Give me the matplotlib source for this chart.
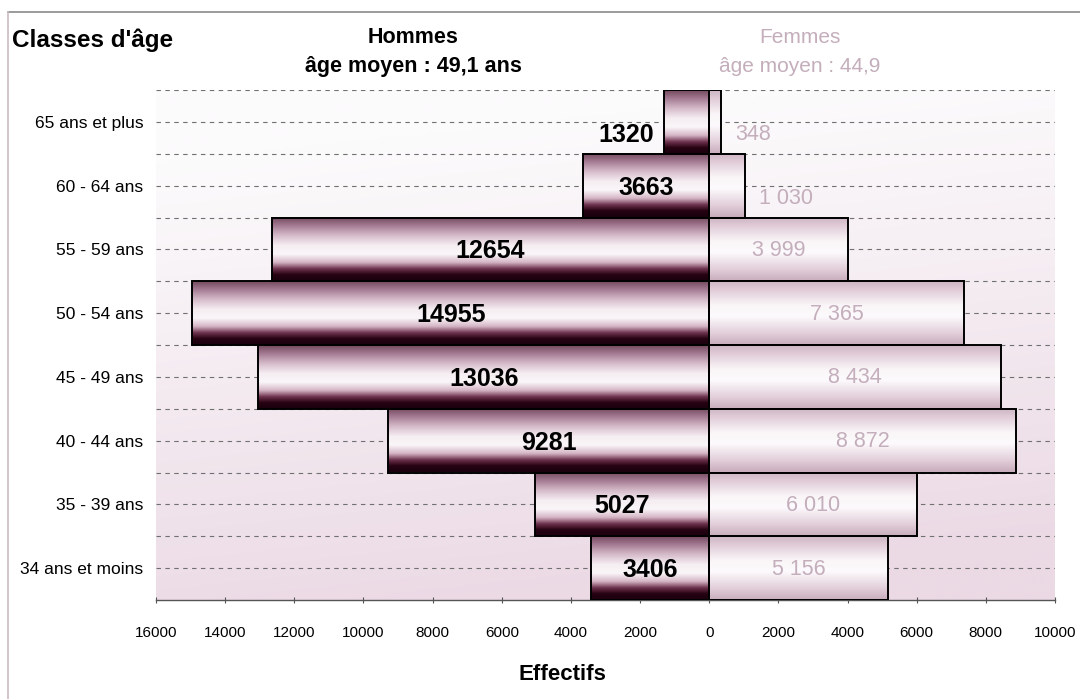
import numpy as np
import matplotlib
matplotlib.use("Agg")
import matplotlib.pyplot as plt
from matplotlib.colors import LinearSegmentedColormap
from matplotlib.ticker import FuncFormatter, MultipleLocator
from matplotlib.lines import Line2D

plt.rcParams['font.family'] = ['Liberation Sans', 'DejaVu Sans']

# data (bottom to top)
classes = ["34 ans et moins", "35 - 39 ans", "40 - 44 ans", "45 - 49 ans",
           "50 - 54 ans", "55 - 59 ans", "60 - 64 ans", "65 ans et plus"]
hommes = [3406, 5027, 9281, 13036, 14955, 12654, 3663, 1320]
femmes = [5156, 6010, 8872, 8434, 7365, 3999, 1030, 348]
titre_h = ["Hommes", "âge moyen : 49,1 ans"]
titre_f = ["Femmes", "âge moyen : 44,9"]


def rgb(r, g, b):
    return (r / 255, g / 255, b / 255)


# vertical shading of the bars, from bottom edge to top edge
cmap_h = LinearSegmentedColormap.from_list("h", [
    (0.00, rgb(25, 0, 12)),
    (0.10, rgb(40, 3, 18)),
    (0.19, rgb(110, 50, 78)),
    (0.29, rgb(212, 180, 196)),
    (0.42, rgb(250, 246, 248)),
    (0.56, rgb(245, 237, 241)),
    (0.72, rgb(212, 185, 200)),
    (0.88, rgb(160, 118, 142)),
    (1.00, rgb(115, 72, 95)),
])
cmap_f = LinearSegmentedColormap.from_list("f", [
    (0.00, rgb(200, 172, 188)),
    (0.18, rgb(226, 206, 217)),
    (0.45, rgb(252, 250, 252)),
    (0.62, rgb(250, 246, 248)),
    (0.85, rgb(226, 206, 217)),
    (1.00, rgb(205, 180, 195)),
])
grad = np.linspace(0, 1, 256).reshape(-1, 1)

fig = plt.figure(figsize=(10.8, 6.99), dpi=100)
ax = fig.add_axes([156 / 1080, 1 - 600 / 699, (1055 - 156) / 1080, (600 - 90) / 699])

# plot area background: white at top, pinkish toward bottom / right
yy, xx = np.mgrid[0:1:200j, 0:1:200j]
s = np.clip(1.05 * (1 - yy) + 0.2 * xx - 0.15, 0, 1)[..., None]
white = np.array(rgb(252, 251, 252))
pink = np.array(rgb(235, 217, 228))
bg = white * (1 - s) + pink * s
ax.imshow(bg, extent=[0, 1, 0, 1], transform=ax.transAxes, origin='lower',
          aspect='auto', zorder=0)

y = np.arange(len(classes))

# dashed grid at class centres and class boundaries
for g in np.arange(0, len(classes), 0.5):
    ax.axhline(g, color='#707070', lw=0.8, ls=(0, (4, 4)), zorder=1)

bars_h = ax.barh(y, [-v for v in hommes], height=1.0, color='none',
                 edgecolor='black', lw=1.4, zorder=3)
bars_f = ax.barh(y, femmes, height=1.0, color='none',
                 edgecolor='black', lw=1.4, zorder=3)

for bars, cmap in ((bars_h, cmap_h), (bars_f, cmap_f)):
    for b in bars:
        x0, y0 = b.get_x(), b.get_y()
        ax.imshow(grad, cmap=cmap, vmin=0, vmax=1, origin='lower', aspect='auto',
                  extent=[x0, x0 + b.get_width(), y0, y0 + b.get_height()],
                  interpolation='bilinear', zorder=2.5)

# value labels
col_f = '#c4aebb'
for yi, v in zip(y, hommes):
    if v < 2000:
        ax.annotate(str(v), xy=(-v, yi), xytext=(-10, -13), textcoords='offset pixels',
                    ha='right', va='center', fontsize=18, weight='bold', zorder=5)
    else:
        ax.annotate(str(v), xy=(-v / 2, yi), xytext=(0, -2), textcoords='offset pixels',
                    ha='center', va='center', fontsize=18, weight='bold', zorder=5)
for yi, v in zip(y, femmes):
    txt = f"{v:,}".replace(",", " ")
    if v < 2000:
        ax.annotate(txt, xy=(v, yi), xytext=(14, -13), textcoords='offset pixels',
                    ha='left', va='center', fontsize=15.5, color=col_f, zorder=5)
    else:
        ax.annotate(txt, xy=(v / 2, yi), xytext=(0, -1), textcoords='offset pixels',
                    ha='center', va='center', fontsize=15.5, color=col_f, zorder=5)

ax.set_xlim(-16000, 10000)
ax.set_ylim(-0.5, len(classes) - 0.5)
ax.set_yticks(y)
ax.set_yticklabels(classes, fontsize=12.5)
ax.tick_params(axis='y', length=0, pad=9)
ax.xaxis.set_major_locator(MultipleLocator(2000))
ax.xaxis.set_major_formatter(FuncFormatter(lambda v, p: f"{abs(int(v))}"))
ax.tick_params(axis='x', direction='inout', length=5, width=0.8, color='#555555',
               labelsize=11, pad=16)
for side in ('top', 'right', 'left'):
    ax.spines[side].set_visible(False)
ax.spines['bottom'].set_color('#555555')
ax.spines['bottom'].set_linewidth(1.0)

# headings
fig.text(12 / 1080, 1 - 47 / 699, "Classes d'âge", fontsize=17.5, weight='bold',
         va='baseline', ha='left')
fig.text(413 / 1080, 1 - 43 / 699, titre_h[0], fontsize=15.5, weight='bold',
         va='baseline', ha='center')
fig.text(413 / 1080, 1 - 72 / 699, titre_h[1], fontsize=15.5, weight='bold',
         va='baseline', ha='center')
fig.text(800 / 1080, 1 - 43 / 699, titre_f[0], fontsize=15, color=col_f,
         va='baseline', ha='center')
fig.text(800 / 1080, 1 - 72 / 699, titre_f[1], fontsize=15, color=col_f,
         va='baseline', ha='center')
fig.text(562 / 1080, 1 - 680 / 699, "Effectifs", fontsize=16, weight='bold',
         va='baseline', ha='center')

# faint frame of the scanned chart
fig.add_artist(Line2D([8 / 1080, 1], [1 - 12 / 699, 1 - 12 / 699],
                      color='#8a8a8a', lw=1.2, transform=fig.transFigure))
fig.add_artist(Line2D([8 / 1080, 8 / 1080], [1 - 12 / 699, 0],
                      color='#cbbcc4', lw=1.2, transform=fig.transFigure))

fig.savefig("out.png", dpi=100)
